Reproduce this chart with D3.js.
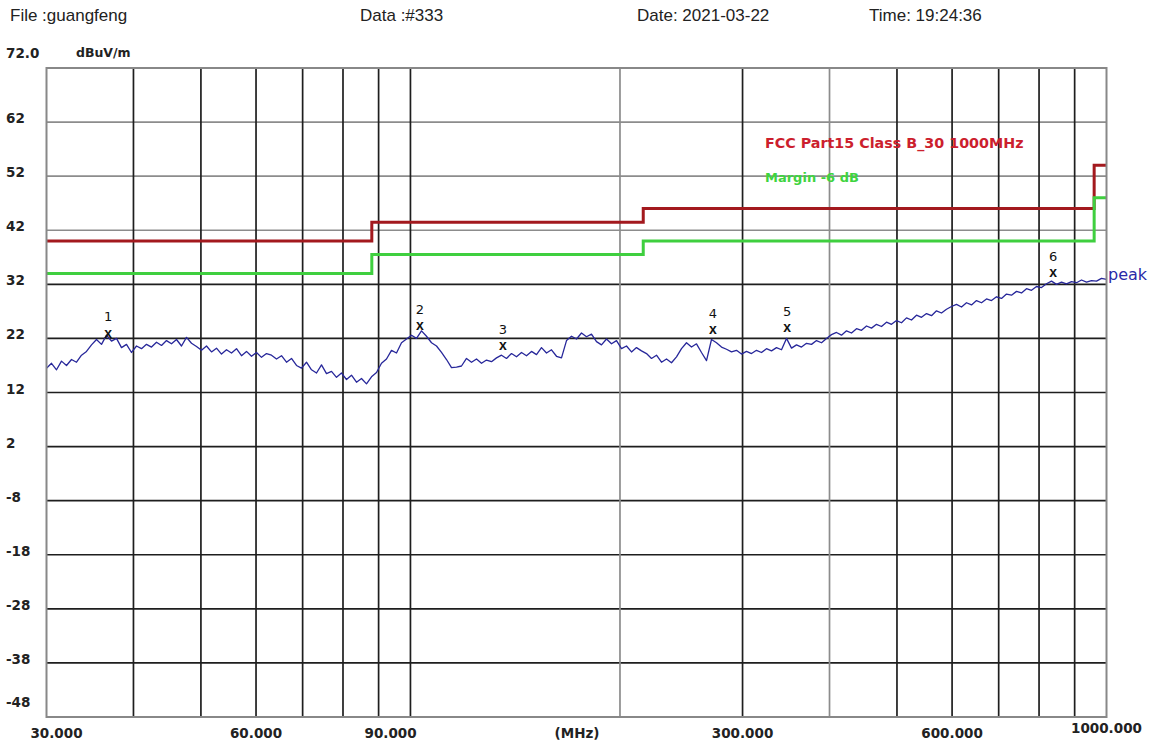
<!DOCTYPE html>
<html>
<head>
<meta charset="utf-8">
<script src="https://cdn.jsdelivr.net/npm/d3@7"></script>
<style>
  html, body { margin: 0; padding: 0; background: #ffffff; }
  svg { display: block; }
</style>
</head>
<body>
<svg id="chart" width="1153" height="747"></svg>
<script>
// ---------------- DATA ----------------
const headerTexts = ["File :guangfeng", "Data :#333", "Date: 2021-03-22", "Time: 19:24:36"];

const yTickValues = [72, 62, 52, 42, 32, 22, 12, 2, -8, -18, -28, -38, -48];
const yTickLabels = ["72.0", "62", "52", "42", "32", "22", "12", "2", "-8", "-18", "-28", "-38", "-48"];

const xTickValues = [30, 60, 90, 300, 600, 1000];
const xTickLabels = ["30.000", "60.000", "90.000", "300.000", "600.000", "1000.000"];
const xGridValues = [40, 50, 60, 70, 80, 90, 100, 200, 300, 400, 500, 600, 700, 800, 900];

// FCC Part 15 Class B limit (step edges in MHz) and margin line
const limitFreq = [30, 88, 216, 960, 1000];
const limitLevel = [40, 43.5, 46, 54, 54];
const marginLevel = [34, 37.5, 40, 48, 48];

// Peak trace: sweep 30..1000 MHz, values in dBuV/m
const sweepStart = 30, sweepStop = 1000;
const peakValues = [
  16.5, 17.4, 16.2, 17.8, 17.0, 18.1, 17.6, 18.9, 19.6, 20.8,
  21.8, 20.9, 22.6, 21.5, 22.0, 20.3, 20.9, 19.4, 20.6, 20.1,
  20.9, 20.4, 21.3, 20.7, 21.6, 21.0, 21.8, 20.6, 22.2, 21.1,
  20.5, 19.8, 20.6, 19.5, 20.2, 19.1, 19.9, 19.3, 20.1, 18.8,
  19.6, 18.7, 19.4, 18.5, 19.2, 18.9, 18.2, 18.8, 17.6, 18.3,
  17.0, 16.5, 17.6, 16.2, 15.6, 17.1, 15.5, 15.9, 14.8, 15.6,
  14.4, 15.2, 13.9, 14.6, 13.6, 14.9, 15.7, 17.4, 18.2, 19.8,
  19.3, 21.2, 21.9, 22.6, 22.0, 23.4, 22.4, 21.2, 20.6, 19.4,
  18.1, 16.6, 16.7, 16.9, 18.3, 17.6, 18.2, 17.4, 18.0, 17.7,
  18.4, 18.9, 18.3, 19.2, 18.6, 19.4, 18.8, 19.6, 19.0, 20.3,
  19.3, 19.9, 18.7, 18.4, 21.6, 22.4, 21.9, 23.0, 22.3, 22.8,
  21.4, 20.8, 21.9, 21.0, 21.6, 20.1, 20.6, 19.5, 20.3, 19.7,
  19.2, 18.3, 18.9, 17.6, 18.2, 17.5, 18.6, 20.1, 21.2, 20.4,
  21.0, 19.4, 17.9, 21.8, 21.2, 20.4, 20.0, 19.5, 19.8, 19.1,
  19.6, 19.2, 19.8, 19.4, 20.1, 19.7, 20.3, 19.9, 22.0, 20.2,
  20.8, 20.4, 21.1, 20.9, 21.6, 21.2, 22.0, 22.7, 23.1, 22.6,
  23.4, 23.0, 23.8, 23.5, 24.3, 23.9, 24.6, 24.2, 25.0, 24.6,
  25.3, 24.9, 25.8, 25.4, 26.3, 25.9, 26.6, 26.2, 27.1, 26.7,
  27.4, 27.9, 28.3, 27.8, 28.6, 28.2, 29.0, 28.6, 29.3, 29.0,
  29.7, 29.4, 30.2, 30.0, 30.7, 30.4, 31.2, 30.9, 31.6, 31.4,
  32.1, 32.6, 32.0, 32.4, 32.1, 32.5, 32.3, 32.8, 32.4, 32.7,
  32.6, 33.1, 32.9
];

// Markers
const markerLabels = ["1", "2", "3", "4", "5", "6"];
const markerFreq = [36.8, 103.2, 135.8, 272.0, 347.7, 838.0];
const markerLevel = [23.0, 24.3, 20.6, 23.6, 24.0, 34.1];

const legendTexts = ["FCC Part15 Class B_30 1000MHz", "Margin -6 dB"];
const traceName = "peak";

// ---------------- DRAW ----------------
const svg = d3.select("#chart");
svg.append("rect").attr("width", 1153).attr("height", 747).attr("fill", "#ffffff");

const x = d3.scaleLog().domain([30, 1000]).range([46.5, 1106.5]);
const y = d3.scaleLinear().domain([-48, 72]).range([717, 68]);

const headFont = "'Liberation Sans', Arial, sans-serif";
const boldFont = "'DejaVu Sans', sans-serif";

// header
const headerX = [10, 360, 637, 869];
svg.selectAll("text.hdr").data(headerTexts).join("text")
  .attr("class", "hdr")
  .attr("x", (d, i) => headerX[i]).attr("y", 21)
  .attr("font-family", headFont).attr("font-size", 17).attr("fill", "#222")
  .text(d => d);

// grid
const grid = svg.append("g");
const lightH = new Set([62, 52, 42]);
const lightV = new Set([200, 400]);
grid.selectAll("line.h").data(yTickValues.filter(v => v < 72 && v > -48)).join("line")
  .attr("x1", x(30)).attr("x2", x(1000))
  .attr("y1", d => y(d)).attr("y2", d => y(d))
  .attr("stroke", d => lightH.has(d) ? "#8c8c8c" : "#1e1e1e")
  .attr("stroke-width", 1.7);
grid.selectAll("line.v").data(xGridValues).join("line")
  .attr("y1", y(72)).attr("y2", y(-48))
  .attr("x1", d => x(d)).attr("x2", d => x(d))
  .attr("stroke", d => lightV.has(d) ? "#8c8c8c" : "#1e1e1e")
  .attr("stroke-width", 1.7);

// limit and margin lines
const stepLine = d3.line().x(d => x(d[0])).y(d => y(d[1])).curve(d3.curveStepAfter);
svg.append("path")
  .attr("d", stepLine(limitFreq.map((f, i) => [f, limitLevel[i]])))
  .attr("fill", "none").attr("stroke", "#a3191e").attr("stroke-width", 3);
svg.append("path")
  .attr("d", stepLine(limitFreq.map((f, i) => [f, marginLevel[i]])))
  .attr("fill", "none").attr("stroke", "#3fcf3f").attr("stroke-width", 3);

// trace
const N = peakValues.length;
const traceData = peakValues.map((v, i) => [sweepStart * Math.pow(sweepStop / sweepStart, i / (N - 1)), v]);
svg.append("path")
  .attr("d", d3.line().x(d => x(d[0])).y(d => y(d[1]))(traceData))
  .attr("fill", "none").attr("stroke", "#27279a").attr("stroke-width", 1.3)
  .attr("stroke-linejoin", "round");

// frame
svg.append("rect")
  .attr("x", x(30)).attr("y", y(72))
  .attr("width", x(1000) - x(30)).attr("height", y(-48) - y(72))
  .attr("fill", "none").attr("stroke", "#888").attr("stroke-width", 2);

// markers
const mk = svg.append("g");
mk.selectAll("text.mx").data(markerFreq).join("text")
  .attr("x", d => x(d)).attr("y", (d, i) => y(markerLevel[i]) + 4.5)
  .attr("text-anchor", "middle")
  .attr("font-family", headFont).attr("font-weight", "bold").attr("font-size", 14).attr("fill", "#111")
  .text("x");
mk.selectAll("text.mn").data(markerFreq).join("text")
  .attr("x", d => x(d)).attr("y", (d, i) => y(markerLevel[i]) - 12)
  .attr("text-anchor", "middle")
  .attr("font-family", boldFont).attr("font-size", 13).attr("fill", "#111")
  .text((d, i) => markerLabels[i]);

// y tick labels
svg.selectAll("text.yl").data(yTickValues).join("text")
  .attr("x", 6)
  .attr("y", (d, i) => y(d) + (i === 0 ? -10 : i === yTickValues.length - 1 ? -10 : 1))
  .attr("font-family", boldFont).attr("font-weight", "bold").attr("font-size", 13.5).attr("fill", "#222")
  .text((d, i) => yTickLabels[i]);
svg.append("text").attr("x", 76).attr("y", 57)
  .attr("font-family", boldFont).attr("font-weight", "bold").attr("font-size", 12.5).attr("fill", "#222")
  .text("dBuV/m");

// x tick labels
svg.selectAll("text.xl").data(xTickValues).join("text")
  .attr("x", (d, i) => x(d) + (i === 0 ? 10 : i === 2 ? 12 : 0))
  .attr("y", (d, i) => i === xTickValues.length - 1 ? 733 : 738)
  .attr("text-anchor", "middle")
  .attr("font-family", boldFont).attr("font-weight", "bold").attr("font-size", 13.5).attr("fill", "#222")
  .text((d, i) => xTickLabels[i]);
svg.append("text").attr("x", 577).attr("y", 738).attr("text-anchor", "middle")
  .attr("font-family", boldFont).attr("font-weight", "bold").attr("font-size", 13.5).attr("fill", "#222")
  .text("(MHz)");

// legend
svg.append("text").attr("x", 765).attr("y", 148)
  .attr("font-family", boldFont).attr("font-weight", "bold").attr("font-size", 14.3).attr("fill", "#cc1f2e")
  .text(legendTexts[0]);
svg.append("text").attr("x", 765).attr("y", 182)
  .attr("font-family", boldFont).attr("font-weight", "bold").attr("font-size", 13).attr("fill", "#3fd43f")
  .text(legendTexts[1]);

// trace name
svg.append("text").attr("x", 1108).attr("y", 280)
  .attr("font-family", boldFont).attr("font-size", 16).attr("fill", "#2a2aa8")
  .text(traceName);
</script>
</body>
</html>
